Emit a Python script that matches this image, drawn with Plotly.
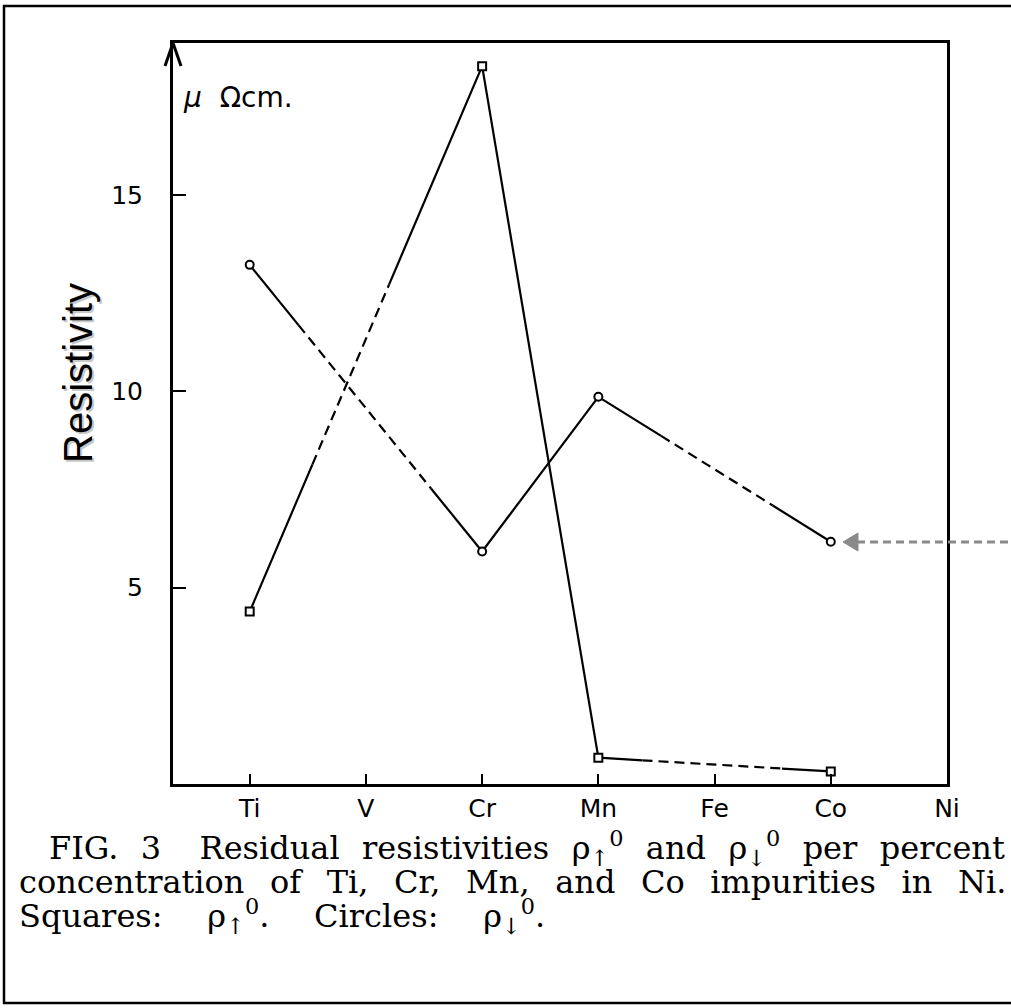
import plotly.graph_objects as go

# ---------------- data ----------------
elements = ["Ti", "V", "Cr", "Mn", "Fe", "Co", "Ni"]      # x-axis tick labels
measured = ["Ti", "Cr", "Mn", "Co"]                        # impurities measured
rho_up = [4.39, 18.28, 0.67, 0.32]      # squares  (rho_up^0), micro-ohm cm
rho_down = [13.22, 5.92, 9.86, 6.17]    # circles  (rho_down^0), micro-ohm cm
y_ticks = [5, 10, 15]

# style: fraction of each interpolated (gap) segment drawn dashed
dash_up = {0: (0.27, 0.60), 2: (0.19, 0.79)}
dash_down = {0: (0.21, 0.78), 2: (0.27, 0.75)}

# ---------------- layout geometry (pixels) ----------------
W, H = 1011, 1008
L, R, T, B = 173, 64, 43, 224
PW, PH = W - L - R, H - T - B


def px(X):
    return (X - L) / PW


def py(Y):
    return (H - B - Y) / PH


def build(vals, spans):
    xs = [elements.index(e) for e in measured]
    sx, sy, dx, dy = [], [], [], []
    for k in range(len(xs) - 1):
        x0, y0, x1, y1 = xs[k], vals[k], xs[k + 1], vals[k + 1]
        if x1 - x0 > 1 and k in spans:
            a, b = spans[k]
            ax_, ay_ = x0 + a * (x1 - x0), y0 + a * (y1 - y0)
            bx_, by_ = x0 + b * (x1 - x0), y0 + b * (y1 - y0)
            sx += [x0, ax_, None, bx_, x1, None]
            sy += [y0, ay_, None, by_, y1, None]
            dx += [ax_, bx_, None]
            dy += [ay_, by_, None]
        else:
            sx += [x0, x1, None]
            sy += [y0, y1, None]
    return xs, sx, sy, dx, dy


fig = go.Figure()
for vals, spans, sym in [(rho_up, dash_up, "square"), (rho_down, dash_down, "circle")]:
    xs, sx, sy, dx, dy = build(vals, spans)
    fig.add_trace(go.Scatter(x=sx, y=sy, mode="lines",
                             line=dict(color="black", width=2.2), showlegend=False,
                             hoverinfo="skip"))
    fig.add_trace(go.Scatter(x=dx, y=dy, mode="lines",
                             line=dict(color="black", width=2.2, dash="10px,6px"),
                             showlegend=False, hoverinfo="skip"))
    fig.add_trace(go.Scatter(x=xs, y=vals, mode="markers",
                             marker=dict(symbol=sym, size=8, color="white",
                                         line=dict(color="black", width=2)),
                             showlegend=False))

tick_font = dict(family="DejaVu Sans", size=25, color="black")
fig.update_layout(
    width=W, height=H, autosize=False,
    margin=dict(l=L, r=R, t=T, b=B, pad=0),
    paper_bgcolor="white", plot_bgcolor="white",
    xaxis=dict(range=[-0.66, 6.0], tickmode="array",
               tickvals=list(range(len(elements))), ticktext=elements,
               ticks="inside", ticklen=10, tickwidth=1.5, tickcolor="black",
               showline=True, linewidth=3, linecolor="black", mirror=True,
               showgrid=False, zeroline=False, tickfont=tick_font),
    yaxis=dict(range=[0, 18.87], tickmode="array", tickvals=y_ticks,
               ticks="inside", ticklen=13, tickwidth=2, tickcolor="black",
               showline=True, linewidth=3, linecolor="black", mirror=True,
               showgrid=False, zeroline=False, ticklabelstandoff=22,
               tickfont=tick_font),
)

shapes = []
# arrowhead on the y axis
for sx_ in (165, 181):
    shapes.append(dict(type="line", xref="paper", yref="paper",
                       x0=px(173), y0=py(43), x1=px(sx_), y1=py(66),
                       line=dict(color="black", width=3)))
# grey dashed pointer arrow
shapes.append(dict(type="line", xref="paper", yref="paper",
                   x0=px(857), y0=py(542), x1=px(1020), y1=py(542),
                   line=dict(color="#8a8a8a", width=3, dash="8px,5px")))
shapes.append(dict(type="path", xref="paper", yref="paper",
                   path=f"M {px(843)},{py(542)} L {px(858)},{py(533)} L {px(858)},{py(551)} Z",
                   fillcolor="#8a8a8a", line=dict(color="#8a8a8a", width=1)))
# outer frame
shapes.append(dict(type="rect", xref="paper", yref="paper",
                   x0=px(4), y0=py(6), x1=px(1020), y1=py(1003),
                   line=dict(color="black", width=2.5)))
fig.update_layout(shapes=shapes)

ann = []
ann.append(dict(xref="paper", yref="paper", x=px(181), y=py(97), xanchor="left",
                yanchor="middle", showarrow=False,
                text="<i>μ</i>\u00a0\u00a0Ωcm.",
                font=dict(family="DejaVu Sans", size=28, color="black")))
ann.append(dict(xref="paper", yref="paper", x=px(80), y=py(375), textangle=-90,
                xanchor="center", yanchor="middle", showarrow=False,
                text="Resistivity",
                font=dict(family="Liberation Sans", size=40, color="#c8c8c8")))
ann.append(dict(xref="paper", yref="paper", x=px(78), y=py(373), textangle=-90,
                xanchor="center", yanchor="middle", showarrow=False,
                text="Resistivity",
                font=dict(family="Liberation Sans", size=40, color="black")))
cap_font = dict(family="DejaVu Serif", size=32, color="black")
S1 = "\u2002\u2009"
S2 = "\u2002\u2009\u200a"
up = "ρ<sub>↑</sub><sup>0</sup>"
down = "ρ<sub>↓</sub><sup>0</sup>"
line1 = S1.join(["FIG.", "3\u2002", "Residual", "resistivities", up, "and", down, "per", "percent"])
line2 = S2.join(["concentration", "of", "Ti,", "Cr,", "Mn,", "and", "Co",
                 "impurities", "in", "Ni."])
line3 = S1.join(["Squares:" + S1, up + "." + S1, "Circles:" + S1, down + "."])
captions = [(47, 848, line1), (17, 882, line2), (17, 916, line3)]
for X, Y, txt in captions:
    ann.append(dict(xref="paper", yref="paper", x=px(X), y=py(Y), xanchor="left",
                    yanchor="middle", showarrow=False, text=txt, font=cap_font))
fig.update_layout(annotations=ann)

fig.write_html("out.html")
